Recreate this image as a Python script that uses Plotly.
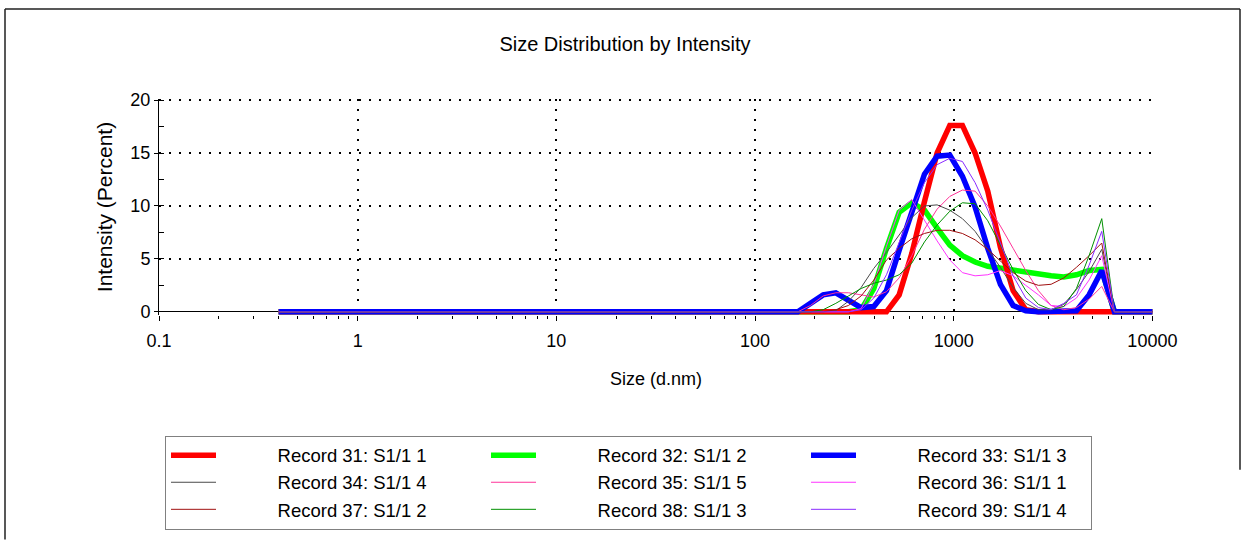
import plotly.graph_objects as go

# Size classes (d.nm) of the instrument's intensity distribution
size_nm = [
    0.4, 0.4632, 0.5365, 0.6213, 0.7195, 0.8332, 0.9649, 1.117, 1.294, 1.499,
    1.736, 2.01, 2.328, 2.696, 3.122, 3.615, 4.187, 4.849, 5.615, 6.503,
    7.531, 8.721, 10.1, 11.7, 13.54, 15.69, 18.17, 21.04, 24.36, 28.21,
    32.67, 37.84, 43.82, 50.75, 58.77, 68.06, 78.82, 91.28, 105.7, 122.4,
    141.8, 164.2, 190.1, 220.2, 255.0, 295.3, 342.0, 396.1, 458.7, 531.2,
    615.1, 712.4, 825.0, 955.4, 1106, 1281, 1484, 1718, 1990, 2305,
    2669, 3091, 3580, 4145, 4801, 5560, 6439, 7456, 8635, 10000,
]

# Intensity (%) per size class for each record
rec31 = [
    0, 0, 0, 0, 0, 0, 0, 0, 0, 0,
    0, 0, 0, 0, 0, 0, 0, 0, 0, 0,
    0, 0, 0, 0, 0, 0, 0, 0, 0, 0,
    0, 0, 0, 0, 0, 0, 0, 0, 0, 0,
    0, 0, 0, 0, 0, 0, 0, 0, 0, 1.6,
    5.5, 10.4, 15.0, 17.6, 17.6, 15.0, 11.4, 6.1, 2.0, 0.2,
    0, 0, 0, 0, 0, 0, 0, 0, 0, 0,
]
rec32 = [
    0, 0, 0, 0, 0, 0, 0, 0, 0, 0,
    0, 0, 0, 0, 0, 0, 0, 0, 0, 0,
    0, 0, 0, 0, 0, 0, 0, 0, 0, 0,
    0, 0, 0, 0, 0, 0, 0, 0, 0, 0,
    0, 0, 0, 0, 0, 0, 0.2, 2.2, 6.0, 9.4,
    10.3, 9.6, 7.9, 6.3, 5.3, 4.7, 4.3, 4.1, 4.0, 3.8,
    3.6, 3.4, 3.3, 3.5, 3.9, 4.0, 0, 0, 0, 0,
]
rec33 = [
    0, 0, 0, 0, 0, 0, 0, 0, 0, 0,
    0, 0, 0, 0, 0, 0, 0, 0, 0, 0,
    0, 0, 0, 0, 0, 0, 0, 0, 0, 0,
    0, 0, 0, 0, 0, 0, 0, 0, 0, 0,
    0, 0, 0.8, 1.6, 1.8, 1.1, 0.4, 0.5, 2.0, 5.8,
    9.4, 13.0, 14.7, 14.8, 12.8, 9.9, 6.0, 2.6, 0.6, 0.1,
    0, 0, 0, 0.1, 1.6, 3.9, 0, 0, 0, 0,
]
rec34 = [
    0, 0, 0, 0, 0, 0, 0, 0, 0, 0,
    0, 0, 0, 0, 0, 0, 0, 0, 0, 0,
    0, 0, 0, 0, 0, 0, 0, 0, 0, 0,
    0, 0, 0, 0, 0, 0, 0, 0, 0, 0,
    0, 0, 0, 0, 0.1, 1.0, 2.3, 4.1, 5.6, 7.3,
    8.9, 10.0, 10.1, 9.6, 8.8, 7.6, 5.9, 4.2, 2.3, 0.8,
    0.2, 0.2, 0.7, 2.1, 3.8, 5.9, 0, 0, 0, 0,
]
rec35 = [
    0, 0, 0, 0, 0, 0, 0, 0, 0, 0,
    0, 0, 0, 0, 0, 0, 0, 0, 0, 0,
    0, 0, 0, 0, 0, 0, 0, 0, 0, 0,
    0, 0, 0, 0, 0, 0, 0, 0, 0, 0,
    0, 0, 0.6, 1.5, 1.8, 1.8, 1.6, 1.4, 1.9, 3.2,
    5.3, 7.8, 9.7, 10.9, 11.5, 11.4, 10.0, 8.1, 6.0, 3.9,
    2.0, 0.6, 0.2, 0.4, 1.2, 2.4, 0, 0, 0, 0,
]
rec36 = [
    0, 0, 0, 0, 0, 0, 0, 0, 0, 0,
    0, 0, 0, 0, 0, 0, 0, 0, 0, 0,
    0, 0, 0, 0, 0, 0, 0, 0, 0, 0,
    0, 0, 0, 0, 0, 0, 0, 0, 0, 0,
    0, 0, 0, 0, 0, 0, 0.3, 2.6, 6.2, 9.6,
    10.6, 8.6, 6.7, 4.9, 3.7, 3.4, 3.5, 3.9, 3.4, 2.5,
    1.6, 0.6, 0.5, 1.3, 3.0, 5.3, 0, 0, 0, 0,
]
rec37 = [
    0, 0, 0, 0, 0, 0, 0, 0, 0, 0,
    0, 0, 0, 0, 0, 0, 0, 0, 0, 0,
    0, 0, 0, 0, 0, 0, 0, 0, 0, 0,
    0, 0, 0, 0, 0, 0, 0, 0, 0, 0,
    0, 0, 0, 0, 0.2, 0.6, 1.5, 3.0, 4.9, 6.0,
    6.9, 7.4, 7.7, 7.7, 7.4, 6.8, 5.9, 4.8, 3.7, 2.9,
    2.5, 2.6, 3.2, 4.2, 5.3, 6.5, 0, 0, 0, 0,
]
rec38 = [
    0, 0, 0, 0, 0, 0, 0, 0, 0, 0,
    0, 0, 0, 0, 0, 0, 0, 0, 0, 0,
    0, 0, 0, 0, 0, 0, 0, 0, 0, 0,
    0, 0, 0, 0, 0, 0, 0, 0, 0, 0,
    0, 0, 0, 0.2, 0.8, 1.5, 2.2, 2.7, 3.0, 3.5,
    4.6, 6.6, 8.2, 9.5, 10.3, 10.2, 8.6, 6.3, 4.0, 2.0,
    0.7, 0.2, 0.5, 2.2, 5.3, 8.8, 0, 0, 0, 0,
]
rec39 = [
    0, 0, 0, 0, 0, 0, 0, 0, 0, 0,
    0, 0, 0, 0, 0, 0, 0, 0, 0, 0,
    0, 0, 0, 0, 0, 0, 0, 0, 0, 0,
    0, 0, 0, 0, 0, 0, 0, 0, 0, 0,
    0, 0, 0, 0, 0, 0, 0.2, 1.3, 3.5, 6.6,
    9.6, 12.2, 13.9, 14.5, 14.2, 12.2, 9.6, 6.5, 3.4, 1.3,
    0.4, 0.2, 0.8, 1.6, 4.4, 7.6, 0, 0, 0, 0,
]

record_names = [
    "Record 31: S1/1 1", "Record 32: S1/1 2", "Record 33: S1/1 3",
    "Record 34: S1/1 4", "Record 35: S1/1 5", "Record 36: S1/1 1",
    "Record 37: S1/1 2", "Record 38: S1/1 3", "Record 39: S1/1 4",
]
record_values = [rec31, rec32, rec33, rec34, rec35, rec36, rec37, rec38, rec39]
record_colors = ["#FF0000", "#00FF00", "#0000FF", "#4A4A4A", "#FF3399",
                 "#FF33FF", "#A01010", "#009000", "#8A2BFF"]
record_widths = [5.5, 5.5, 5.5, 1, 1, 1, 1, 1, 1]

x_ticks = [0.1, 1, 10, 100, 1000, 10000]
x_tick_text = ["0.1", "1", "10", "100", "1000", "10000"]
y_ticks = [0, 5, 10, 15, 20]

FONT = "Liberation Sans, Arial, sans-serif"
NBSP = "\u00a0"

# plot-area geometry in pixels
W, H = 1250, 540
PL, PR, PT, PB = 159, 1153, 99, 315.2

fig = go.Figure()
# green under red under blue, thin records on top
draw_order = [1, 0, 2, 3, 4, 5, 6, 7, 8]
for i in draw_order:
    fig.add_trace(go.Scatter(
        x=size_nm, y=record_values[i], mode="lines",
        # gap between the legend swatch and its label
        name=NBSP * 11 + record_names[i],
        line=dict(color=record_colors[i], width=record_widths[i]),
        legendrank=i + 1,
        legendwidth=225 if i % 3 == 2 else None,
        hoverinfo="skip",
    ))

grid_style = dict(showgrid=True, gridcolor="#000000", gridwidth=2, griddash="2px,8px")

fig.update_xaxes(
    type="log", range=[-1, 4.003], tickmode="array", tickvals=x_ticks, ticktext=x_tick_text,
    ticks="outside", ticklen=5, tickcolor="#000000", showline=False, zeroline=False,
    tickfont=dict(family=FONT, size=18, color="#000000"), ticklabelstandoff=4,
    minor=dict(ticks="outside", ticklen=3, tickcolor="#000000", showgrid=False,
               tickvals=[m * 10 ** k for k in range(-1, 4) for m in range(2, 10)]),
    title=dict(text="Size (d.nm)", font=dict(family=FONT, size=18, color="#000000"), standoff=22),
    **grid_style,
)
fig.update_yaxes(
    range=[-0.3, 20.1], tickmode="array", tickvals=y_ticks,
    ticks="outside", ticklen=4, tickcolor="#000000",
    showline=True, linecolor="#000000", linewidth=1,
    zeroline=True, zerolinecolor="#000000", zerolinewidth=1,
    tickfont=dict(family=FONT, size=18, color="#000000"),
    minor=dict(ticks="inside", ticklen=5, tickcolor="#000000", dtick=2.5, showgrid=False),
    title=dict(text="Intensity (Percent)", font=dict(family=FONT, size=21, color="#000000"), standoff=12),
    **grid_style,
)


def px_x(px):
    return (px - PL) / (PR - PL)


def px_y(py):
    return (PB - py) / (PB - PT)


frame = dict(type="line", xref="paper", yref="paper", line=dict(color="#202020", width=1.5))
fig.update_layout(
    width=W, height=H,
    margin=dict(l=PL, r=W - PR, t=PT, b=H - PB, autoexpand=False),
    paper_bgcolor="#FFFFFF", plot_bgcolor="#FFFFFF",
    title=dict(text="Size Distribution by Intensity", x=0.5, xref="container",
               y=1 - 44 / H, yref="container", xanchor="center", yanchor="middle",
               font=dict(family=FONT, size=20, color="#000000")),
    showlegend=True,
    legend=dict(
        orientation="h", x=px_x(165), y=px_y(436), xanchor="left", yanchor="top",
        bgcolor="#FFFFFF", bordercolor="#808080", borderwidth=1,
        font=dict(family=FONT, size=18.5, color="#000000"),
        itemwidth=45, entrywidth=260, entrywidthmode="pixels",
        traceorder="normal", itemclick=False, itemdoubleclick=False,
    ),
    shapes=[
        dict(frame, x0=px_x(5), x1=px_x(1240), y0=px_y(9), y1=px_y(9)),
        dict(frame, x0=px_x(5), x1=px_x(5), y0=px_y(9), y1=px_y(540)),
        dict(frame, x0=px_x(1240), x1=px_x(1240), y0=px_y(9), y1=px_y(470)),
    ],
)

fig.write_html("out.html")
